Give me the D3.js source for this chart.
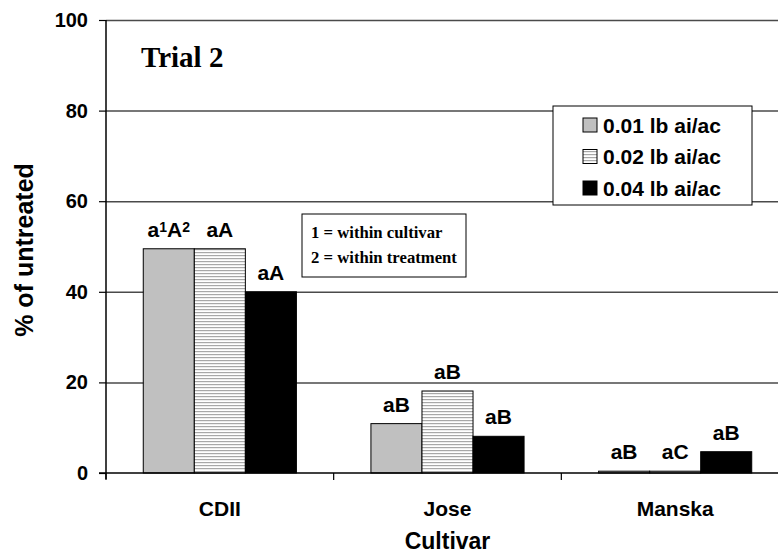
<!DOCTYPE html>
<html>
<head>
<meta charset="utf-8">
<script src="https://cdn.jsdelivr.net/npm/d3@7"></script>
<style>
  body { margin: 0; background: #fff; }
  text { font-family: Arial, "Liberation Sans", sans-serif; font-weight: bold; fill: #000; }
  .serif { font-family: "Times New Roman", "Liberation Serif", serif; }
</style>
</head>
<body>
<svg id="chart" width="778" height="559"></svg>
<script>
// data
const cultivars = ["CDII", "Jose", "Manska"];
const rates = ["0.01 lb ai/ac", "0.02 lb ai/ac", "0.04 lb ai/ac"];
const rate001 = [49.5, 10.9, 0.4];
const rate002 = [49.5, 18.1, 0.4];
const rate004 = [40.0, 8.1, 4.7];
const letters001 = ["a¹A²", "aB", "aB"];
const letters002 = ["aA", "aB", "aC"];
const letters004 = ["aA", "aB", "aB"];
const yTicks = [0, 20, 40, 60, 80, 100];

const series = [rate001, rate002, rate004];
const letters = [letters001, letters002, letters004];
const fills = ["#c0c0c0", "url(#stripes)", "#000000"];

const svg = d3.select("#chart");

// horizontal stripes for the middle rate
const pat = svg.append("defs").append("pattern")
    .attr("id", "stripes")
    .attr("patternUnits", "userSpaceOnUse")
    .attr("width", 6)
    .attr("height", 3);
pat.append("rect").attr("width", 6).attr("height", 3).attr("fill", "#fff");
pat.append("rect").attr("y", 0).attr("width", 6).attr("height", 1.2).attr("fill", "#a8a8a8");

const plotLeft = 106, plotRight = 789, plotTop = 20, plotBottom = 473;

const x = d3.scaleBand()
    .domain(cultivars)
    .range([plotLeft, plotRight])
    .paddingInner(0)
    .paddingOuter(0);

const xInner = d3.scaleBand()
    .domain(d3.range(series.length))
    .range([0, x.bandwidth()])
    .paddingOuter(0.73)
    .paddingInner(0);

const y = d3.scaleLinear()
    .domain([0, 100])
    .range([plotBottom, plotTop]);

// gridlines
svg.append("g")
    .attr("transform", "translate(" + plotLeft + ",0)")
    .call(d3.axisLeft(y)
        .tickValues(yTicks.filter(d => d > 0))
        .tickSize(-(plotRight - plotLeft))
        .tickFormat(""))
    .call(g => g.select(".domain").remove())
    .call(g => g.selectAll("line").attr("stroke", "#4a4a4a").attr("stroke-width", 1.5));

// bars
cultivars.forEach((c, i) => {
    series.forEach((s, j) => {
        svg.append("rect")
            .attr("x", x(c) + xInner(j))
            .attr("y", y(s[i]))
            .attr("width", xInner.bandwidth())
            .attr("height", y(0) - y(s[i]))
            .attr("fill", fills[j])
            .attr("stroke", "#000")
            .attr("stroke-width", 1);
    });
});

// letters above bars
cultivars.forEach((c, i) => {
    series.forEach((s, j) => {
        const t = svg.append("text")
            .attr("x", x(c) + xInner(j) + xInner.bandwidth() / 2)
            .attr("y", y(s[i]) - 12)
            .attr("text-anchor", "middle")
            .style("font-size", "21px");
        const lab = letters[j][i];
        if (lab.indexOf("¹") >= 0) {
            // superscript digits drawn smaller and raised
            t.append("tspan").text("a");
            t.append("tspan").text("1").style("font-size", "14px").attr("dy", -5);
            t.append("tspan").text("A").attr("dy", 5);
            t.append("tspan").text("2").style("font-size", "14px").attr("dy", -5);
        } else {
            t.text(lab);
        }
    });
});

// y axis
const yAxis = svg.append("g")
    .attr("transform", "translate(" + plotLeft + ",0)")
    .call(d3.axisLeft(y).tickValues(yTicks).tickSize(7).tickPadding(11));
yAxis.select(".domain").attr("stroke", "#000").attr("stroke-width", 1.5).attr("d", "M0," + plotTop + "V" + (plotBottom + 6));
yAxis.selectAll("line").attr("stroke", "#000").attr("stroke-width", 1.2);
yAxis.selectAll("text").style("font-size", "20px").style("font-family", "Arial, 'Liberation Sans', sans-serif").style("font-weight", "bold");

// x axis
const xAxis = svg.append("g")
    .attr("transform", "translate(0," + plotBottom + ")");
xAxis.append("line")
    .attr("x1", plotLeft - 7).attr("x2", plotRight)
    .attr("stroke", "#000").attr("stroke-width", 1.5);
xAxis.selectAll(".sep")
    .data(cultivars)
    .join("line")
    .attr("x1", d => x(d)).attr("x2", d => x(d))
    .attr("y1", 0).attr("y2", 7)
    .attr("stroke", "#000").attr("stroke-width", 1.2);
xAxis.selectAll(".lab")
    .data(cultivars)
    .join("text")
    .attr("x", d => x(d) + x.bandwidth() / 2)
    .attr("y", 43)
    .attr("text-anchor", "middle")
    .style("font-size", "21px")
    .text(d => d);

// axis titles
svg.append("text")
    .attr("x", (plotLeft + plotRight) / 2)
    .attr("y", 549)
    .attr("text-anchor", "middle")
    .style("font-size", "23px")
    .text("Cultivar");

svg.append("text")
    .attr("transform", "translate(33,250) rotate(-90)")
    .attr("text-anchor", "middle")
    .style("font-size", "25px")
    .text("% of untreated");

// trial title
svg.append("text")
    .attr("class", "serif")
    .attr("x", 141)
    .attr("y", 67)
    .style("font-size", "29px")
    .text("Trial 2");

// legend
const legend = svg.append("g").attr("transform", "translate(553,106)");
legend.append("rect")
    .attr("width", 199).attr("height", 99)
    .attr("fill", "#fff").attr("stroke", "#000").attr("stroke-width", 1);
rates.forEach((r, i) => {
    legend.append("rect")
        .attr("x", 30).attr("y", 12 + i * 31.5)
        .attr("width", 14).attr("height", 14)
        .attr("fill", fills[i]).attr("stroke", "#000").attr("stroke-width", 1);
    legend.append("text")
        .attr("x", 50).attr("y", 26.5 + i * 31.5)
        .style("font-size", "21px")
        .text(r);
});

// note box
const notes = ["1 = within cultivar", "2 = within treatment"];
const note = svg.append("g").attr("transform", "translate(302,214)");
note.append("rect")
    .attr("width", 164).attr("height", 63)
    .attr("fill", "#fff").attr("stroke", "#000").attr("stroke-width", 1);
notes.forEach((n, i) => {
    note.append("text")
        .attr("class", "serif")
        .attr("x", 9).attr("y", 24 + i * 25)
        .style("font-size", "16.7px")
        .text(n);
});
</script>
</body>
</html>
